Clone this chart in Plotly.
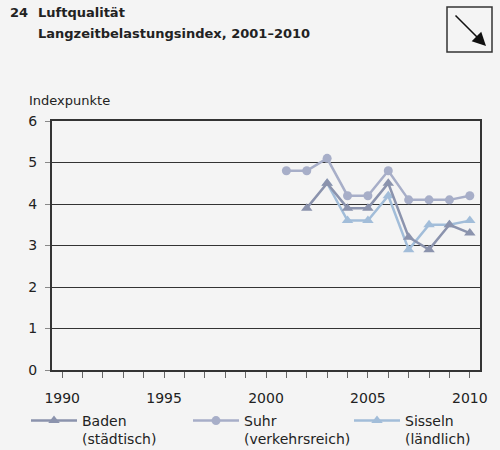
import plotly.graph_objects as go

years_baden = [2002, 2003, 2004, 2005, 2006, 2007, 2008, 2009, 2010]
baden = [3.9, 4.5, 3.9, 3.9, 4.5, 3.2, 2.9, 3.5, 3.3]

years_suhr = [2001, 2002, 2003, 2004, 2005, 2006, 2007, 2008, 2009, 2010]
suhr = [4.8, 4.8, 5.1, 4.2, 4.2, 4.8, 4.1, 4.1, 4.1, 4.2]

years_sisseln = [2003, 2004, 2005, 2006, 2007, 2008, 2009, 2010]
sisseln = [4.5, 3.6, 3.6, 4.2, 2.9, 3.5, 3.5, 3.6]

W, H = 500, 450
L, R, T, B = 52, 20, 121, 80
PW, PH = W - L - R, H - T - B

def px(x):
    return (x - L) / PW

def py(y):
    return (H - B - y) / PH

FONT = "DejaVu Sans"
BG = "#f4f4f4"

fig = go.Figure()
fig.add_trace(go.Scatter(x=years_suhr, y=suhr, name="Suhr<br>(verkehrsreich)", mode="lines+markers",
                         line=dict(color="#a7aec8", width=2.5), legend="legend2",
                         marker=dict(symbol="circle", size=9, color="#a7aec8")))
fig.add_trace(go.Scatter(x=years_sisseln, y=sisseln, name="Sisseln<br>(ländlich)", mode="lines+markers",
                         line=dict(color="#a2bdd9", width=2.5), legend="legend3",
                         marker=dict(symbol="triangle-up", size=10, color="#a2bdd9")))
fig.add_trace(go.Scatter(x=years_baden, y=baden, name="Baden<br>(städtisch)", mode="lines+markers",
                         line=dict(color="#8b93ad", width=2.5), legend="legend",
                         marker=dict(symbol="triangle-up", size=10, color="#8b93ad")))

def leg(x):
    return dict(orientation="v", x=px(x), y=py(405), xanchor="left", yanchor="top",
                bgcolor="rgba(0,0,0,0)", itemwidth=46, valign="top",
                font=dict(family=FONT, size=14, color="#222"))

fig.update_layout(
    width=W, height=H,
    margin=dict(l=L, r=R, t=T, b=B, autoexpand=False),
    paper_bgcolor=BG, plot_bgcolor=BG,
    font=dict(family=FONT, size=14, color="#222"),
    showlegend=True,
    legend=leg(26), legend2=leg(188), legend3=leg(349),
)
fig.update_xaxes(range=[1989.5, 2010.5], tickmode="linear", tick0=1990, dtick=5,
                 ticks="outside", ticklen=6, tickcolor="#666", tickwidth=1,
                 minor=dict(dtick=1, tick0=1990, ticks="outside", ticklen=6, tickcolor="#666", showgrid=False),
                 showgrid=False, zeroline=False, showline=True, linecolor="#333", linewidth=2,
                 mirror=True, ticklabelstandoff=8, tickfont=dict(size=14))
fig.update_yaxes(range=[0, 6], tickmode="linear", tick0=0, dtick=1,
                 ticks="outside", ticklen=5, tickcolor="#888", tickwidth=1,
                 showgrid=True, gridcolor="#333", gridwidth=1, zeroline=False,
                 showline=True, linecolor="#333", linewidth=2, mirror=True,
                 ticklabelstandoff=5, tickfont=dict(size=14))

ann = [
    dict(text="<b>24</b>", x=px(8), y=py(13)),
    dict(text="<b>Luftqualität</b>", x=px(36), y=py(13)),
    dict(text="<b>Langzeitbelastungsindex, 2001–2010</b>", x=px(36), y=py(33)),
]
for a in ann:
    fig.add_annotation(xref="paper", yref="paper", xanchor="left", yanchor="middle", showarrow=False,
                       font=dict(family="DejaVu Sans", size=13, color="#222"), **a)
fig.add_annotation(text="Indexpunkte", xref="paper", yref="paper", x=px(27), y=py(100),
                   xanchor="left", yanchor="middle", showarrow=False,
                   font=dict(family=FONT, size=13, color="#222"))

fig.add_shape(type="rect", xref="paper", yref="paper", x0=px(447), x1=px(492), y0=py(52), y1=py(7),
              line=dict(color="#333", width=1.5), fillcolor="rgba(0,0,0,0)")
fig.add_annotation(xref="paper", yref="paper", x=px(486), y=py(46), ax=-32, ay=-32,
                   text="", showarrow=True, arrowhead=2, arrowsize=1.8, arrowwidth=1.5, arrowcolor="#111")

fig.write_html("out.html", config={"displayModeBar": False},
               post_script="document.body.style.margin='0';")
